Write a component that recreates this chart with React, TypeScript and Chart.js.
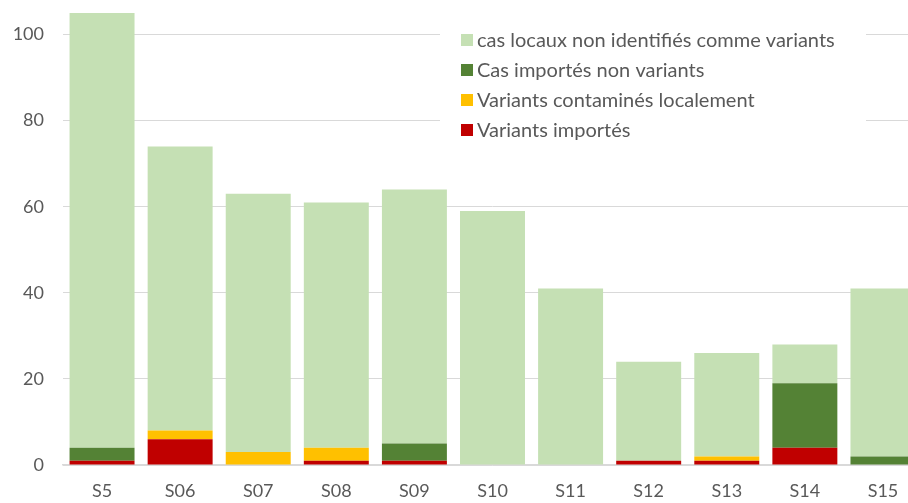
import React, { useEffect, useRef } from "react";
import { Chart, registerables } from "chart.js";

Chart.register(...registerables);

const categories = ["S5", "S06", "S07", "S08", "S09", "S10", "S11", "S12", "S13", "S14", "S15"];
const variantsImportes = [1, 6, 0, 1, 1, 0, 0, 1, 1, 4, 0];
const variantsLocaux = [0, 2, 3, 3, 0, 0, 0, 0, 1, 0, 0];
const importesNonVariants = [3, 0, 0, 0, 4, 0, 0, 0, 0, 15, 2];
const casLocaux = [101, 66, 60, 57, 59, 59, 41, 23, 24, 9, 39];
const yTicks = [0, 20, 40, 60, 80, 100];

const FONT = "Lato, 'Open Sans', sans-serif";
const TEXT = "#595959";
const CANVAS_W = 922;

const legendPlugin = {
  id: "insideLegend",
  afterDraw(chart: any) {
    const { ctx, chartArea } = chart;
    const boxLeft = chartArea.left + 377;
    const boxTop = chartArea.top + 8;
    ctx.save();
    ctx.fillStyle = "#ffffff";
    ctx.fillRect(boxLeft, boxTop, 426, 128);
    const ds = [...chart.data.datasets].reverse();
    ctx.font = `20px ${FONT}`;
    ctx.textBaseline = "middle";
    ds.forEach((d: any, i: number) => {
      const cy = boxTop + 19 + i * 30;
      ctx.fillStyle = d.backgroundColor;
      ctx.fillRect(boxLeft + 21, cy - 6, 12, 12);
      ctx.fillStyle = TEXT;
      ctx.fillText(d.label, boxLeft + 37, cy + 1);
    });
    ctx.restore();
  },
};

export default function App() {
  const ref = useRef<HTMLCanvasElement>(null);
  useEffect(() => {
    if (!ref.current) return;
    const chart = new Chart(ref.current, {
      type: "bar",
      data: {
        labels: categories,
        datasets: [
          { label: "Variants importés", data: variantsImportes, backgroundColor: "#C00000" },
          { label: "Variants contaminés localement", data: variantsLocaux, backgroundColor: "#FFC000" },
          { label: "Cas importés non variants", data: importesNonVariants, backgroundColor: "#548235" },
          { label: "cas locaux non identifiés comme variants", data: casLocaux, backgroundColor: "#C5E0B4" },
        ],
      },
      options: {
        animation: false,
        responsive: false,
        maintainAspectRatio: false,
        layout: { padding: { top: 13, right: 0, left: 0, bottom: 0 } },
        datasets: { bar: { categoryPercentage: 1, barPercentage: 0.832 } } as any,
        plugins: { legend: { display: false }, tooltip: { enabled: false } },
        scales: {
          x: {
            stacked: true,
            grid: { display: false },
            border: { color: "#D9D9D9", width: 1.5 },
            ticks: { color: TEXT, font: { family: FONT, size: 18 }, padding: 7 },
            afterFit: (s: any) => { s.height = 38; s.paddingLeft = 0; s.paddingRight = 0; },
          },
          y: {
            stacked: true,
            min: 0,
            max: 105,
            grid: { color: "#D9D9D9", drawTicks: false, lineWidth: 1 },
            border: { display: false },
            ticks: { color: TEXT, font: { family: FONT, size: 18 }, padding: 19, stepSize: 20 },
            afterBuildTicks: (s: any) => { s.ticks = yTicks.map((v) => ({ value: v })); },
            afterFit: (s: any) => { s.width = 63; s.paddingTop = 0; s.paddingBottom = 0; },
          },
        },
      },
      plugins: [legendPlugin],
    });
    return () => chart.destroy();
  }, []);
  return (
    <div style={{ position: "absolute", left: 0, top: 0, width: 908, height: 503, overflow: "hidden", background: "#fff" }}>
      <canvas ref={ref} width={CANVAS_W} height={503} style={{ width: CANVAS_W, height: 503 }} />
    </div>
  );
}
